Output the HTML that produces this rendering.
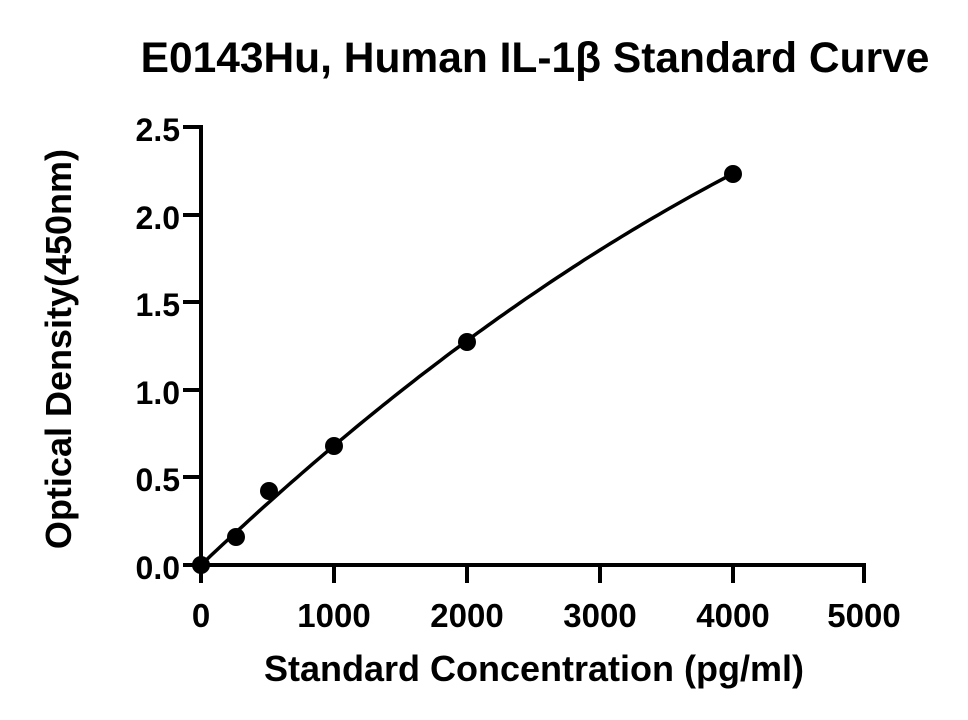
<!DOCTYPE html>
<html><head><meta charset="utf-8"><style>
html,body{margin:0;padding:0;background:#fff;}
svg{display:block;font-family:"Liberation Sans",Arial,sans-serif;font-weight:bold;}
</style></head><body>
<svg id="s" width="968" height="720" viewBox="0 0 968 720">
<text x="535" y="72" font-size="42.5" text-anchor="middle">E0143Hu, Human IL-1β Standard Curve</text>
<text transform="translate(71,349) rotate(-90)" font-size="36" text-anchor="middle">Optical Density(450nm)</text>
<text x="534" y="681" font-size="36" text-anchor="middle">Standard Concentration (pg/ml)</text>
<g stroke="#000" stroke-width="4" fill="none">
<line x1="201" y1="125" x2="201" y2="575"/>
<line x1="199" y1="565" x2="866" y2="565"/>
<line x1="183" y1="127" x2="201" y2="127"/>
<line x1="183" y1="215" x2="201" y2="215"/>
<line x1="183" y1="302" x2="201" y2="302"/>
<line x1="183" y1="390" x2="201" y2="390"/>
<line x1="183" y1="477" x2="201" y2="477"/>
<line x1="183" y1="565" x2="201" y2="565"/>
<line x1="334" y1="565" x2="334" y2="583"/>
<line x1="467" y1="565" x2="467" y2="583"/>
<line x1="600" y1="565" x2="600" y2="583"/>
<line x1="733" y1="565" x2="733" y2="583"/>
<line x1="864" y1="565" x2="864" y2="583"/>
<line x1="201" y1="565" x2="201" y2="583"/>
</g>
<g font-size="32" text-anchor="end">
<text x="180" y="141">2.5</text><text x="180" y="229">2.0</text><text x="180" y="316">1.5</text>
<text x="180" y="404">1.0</text><text x="180" y="491">0.5</text><text x="180" y="579">0.0</text>
</g>
<g font-size="33" text-anchor="middle">
<text x="201" y="627">0</text><text x="334" y="627">1000</text><text x="467" y="627">2000</text>
<text x="600" y="627">3000</text><text x="733" y="627">4000</text><text x="864" y="627">5000</text>
</g>
<path id="c" stroke="#000" stroke-width="3.5" fill="none" d=""/>
<g fill="#000">
<circle cx="201" cy="565" r="9"/><circle cx="236" cy="537" r="9"/><circle cx="269" cy="491" r="9"/>
<circle cx="334" cy="446" r="9"/><circle cx="467" cy="342" r="9"/><circle cx="733" cy="174" r="9"/>
</g>
</svg>
<script>
var d="";for(var i=0;i<=100;i++){var x=40*i;var y=0.000721*x-4.08e-8*x*x;
d+=(i?"L":"M")+(201+x*0.133).toFixed(1)+" "+(565-y*175.4).toFixed(1);}
document.getElementById("c").setAttribute("d",d);
</script>
</body></html>
